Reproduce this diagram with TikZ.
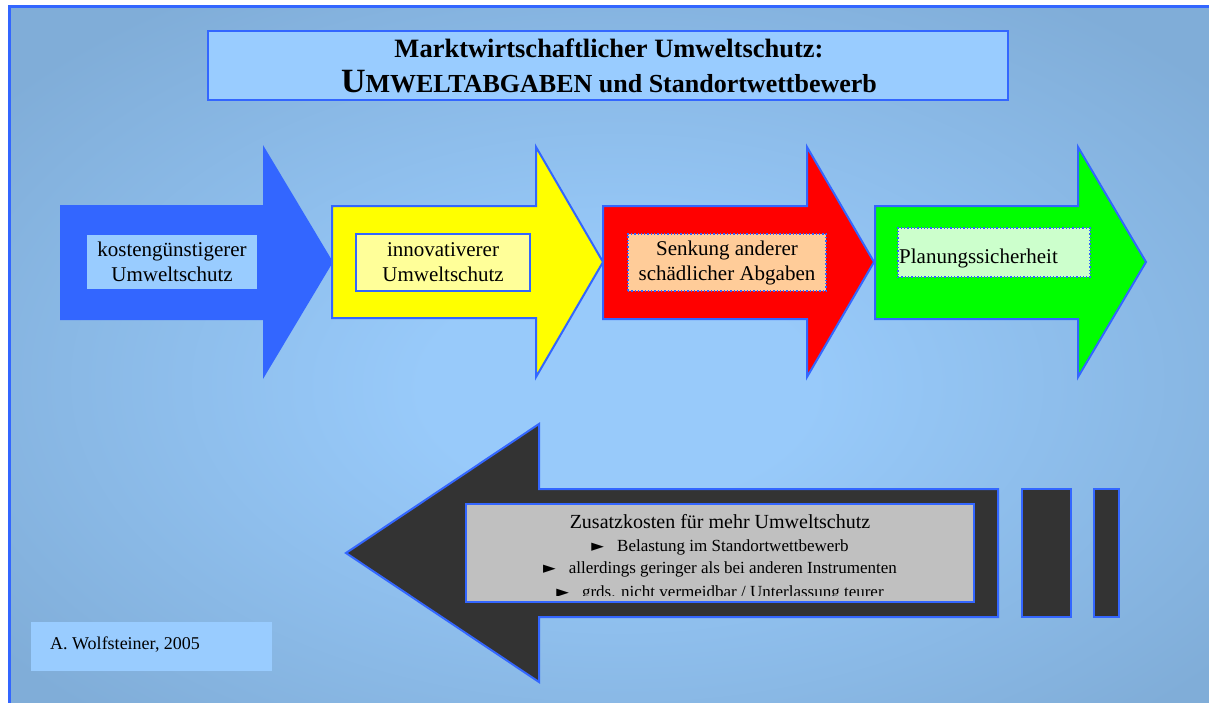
\documentclass[tikz,border=0pt]{standalone}
\usepackage{fontspec}
\setmainfont{Liberation Serif}
\newfontfamily\symfont{DejaVu Sans}
\definecolor{frameblue}{HTML}{3366FF}
\definecolor{lightblue}{HTML}{99CCFF}
\definecolor{bginner}{HTML}{98CAFA}
\definecolor{bgouter}{HTML}{80ADD8}
\definecolor{arrowyellow}{HTML}{FFFF00}
\definecolor{paleyellow}{HTML}{FFFF99}
\definecolor{arrowred}{HTML}{FF0000}
\definecolor{paleorange}{HTML}{FFCC99}
\definecolor{arrowgreen}{HTML}{00FF00}
\definecolor{palegreen}{HTML}{CCFFCC}
\definecolor{darkgrey}{HTML}{333333}
\definecolor{silvergrey}{HTML}{C0C0C0}
\pgfdeclareradialshading{bgshade}{\pgfpoint{0bp}{-2bp}}{color(0bp)=(bginner); color(8bp)=(bginner); color(32bp)=(bgouter); color(60bp)=(bgouter)}
\newcommand\tribullet{{\symfont\fontsize{16.5}{18}\selectfont ►}\hspace{13pt}}
\tikzset{
  bigarrow/.style={draw=frameblue, line width=2pt, line join=miter},
  labeltext/.style={inner sep=0pt, align=center, font=\fontsize{21}{25}\selectfont},
  solidbox/.style={draw=frameblue, line width=1.8pt},
  dotbox/.style={draw=frameblue, line width=1.3pt, dotted},
}
\begin{document}
\begin{tikzpicture}[x=1pt,y=-1pt]
\useasboundingbox (0,0) rectangle (1209,702);
\fill[white] (0,0) rectangle (1209,702);
% background
\fill[shading=bgshade] (9.5,6.3) rectangle (1225,720);
\draw[frameblue, line width=2.5pt] (9.5,720) -- (9.5,6.3) -- (1230,6.3);

% title
\node[draw=frameblue, line width=2.5pt, fill=lightblue, minimum width=800pt, minimum height=69pt, inner sep=0pt] (title) at (608,65.5) {};
\node[anchor=base, font=\bfseries\fontsize{26.5}{30}\selectfont] (title1) at (609,57) {Marktwirtschaftlicher Umweltschutz:};
\node[anchor=base, font=\bfseries\fontsize{26}{30}\selectfont] (title2) at (609,92) {{\fontsize{34}{36}\selectfont U}MWELTABGABEN und Standortwettbewerb};

% arrow 1 (blue)
\fill[frameblue] (60,205) -- (263,205) -- (263,145) -- (333,262) -- (263,379) -- (263,320) -- (60,320) -- cycle;
\node[fill=lightblue, minimum width=170pt, minimum height=54pt, labeltext] (b1) at (172,262) {kostengünstigerer\\Umweltschutz};

% arrow 2 (yellow)
\filldraw[bigarrow, fill=arrowyellow] (332,206) -- (536,206) -- (536,147) -- (603,262) -- (536,377) -- (536,318) -- (332,318) -- cycle;
\node[solidbox, fill=paleyellow, minimum width=174pt, minimum height=57pt, labeltext] (b2) at (443,262.5) {innovativerer\\Umweltschutz};

% arrow 3 (red)
\filldraw[bigarrow, fill=arrowred] (603,206) -- (807,206) -- (807,147) -- (874,262) -- (807,377) -- (807,319) -- (603,319) -- cycle;
\node[dotbox, fill=paleorange, minimum width=198pt, minimum height=57pt, labeltext] (b3) at (727,262.5) {Senkung anderer\\schädlicher Abgaben};

% arrow 4 (green)
\filldraw[bigarrow, fill=arrowgreen] (875,206) -- (1078,206) -- (1078,147) -- (1146,262) -- (1078,377) -- (1078,319) -- (875,319) -- cycle;
\node[dotbox, fill=palegreen, minimum width=192pt, minimum height=49pt, inner sep=0pt] (b4) at (994,252.5) {};
\node[anchor=base west, font=\fontsize{21}{25}\selectfont, inner sep=0pt] (t4) at (899,263) {Planungssicherheit};

% bottom arrow (dark)
\filldraw[bigarrow, fill=darkgrey] (998,489) -- (539,489) -- (539,424) -- (346,553) -- (539,682) -- (539,617) -- (998,617) -- cycle;
\filldraw[bigarrow, fill=darkgrey] (1022,489) rectangle (1071,617);
\filldraw[bigarrow, fill=darkgrey] (1094,489) rectangle (1119,617);
\node[solidbox, fill=silvergrey, minimum width=508pt, minimum height=98pt, inner sep=0pt] (gbox) at (720,553) {};
\begin{scope}
\clip (467,505) rectangle (973,595);
\node[anchor=base, inner sep=0pt, font=\fontsize{20}{24}\selectfont] (z0) at (720,528) {Zusatzkosten für mehr Umweltschutz};
\node[anchor=base, inner sep=0pt, font=\fontsize{17}{20}\selectfont] (z1) at (720,551) {\tribullet Belastung im Standortwettbewerb};
\node[anchor=base, inner sep=0pt, font=\fontsize{17}{20}\selectfont] (z2) at (720,573) {\tribullet allerdings geringer als bei anderen Instrumenten};
\node[anchor=base, inner sep=0pt, font=\fontsize{17}{20}\selectfont] (z3) at (720,597) {\tribullet grds. nicht vermeidbar / Unterlassung teurer};
\end{scope}

% author
\node[fill=lightblue, minimum width=241pt, minimum height=49pt, inner sep=0pt] (auth) at (151.5,646.5) {};
\node[anchor=base west, inner sep=0pt, font=\fontsize{18}{22}\selectfont] (authtext) at (50,649) {A. Wolfsteiner, 2005};
\end{tikzpicture}
\end{document}
